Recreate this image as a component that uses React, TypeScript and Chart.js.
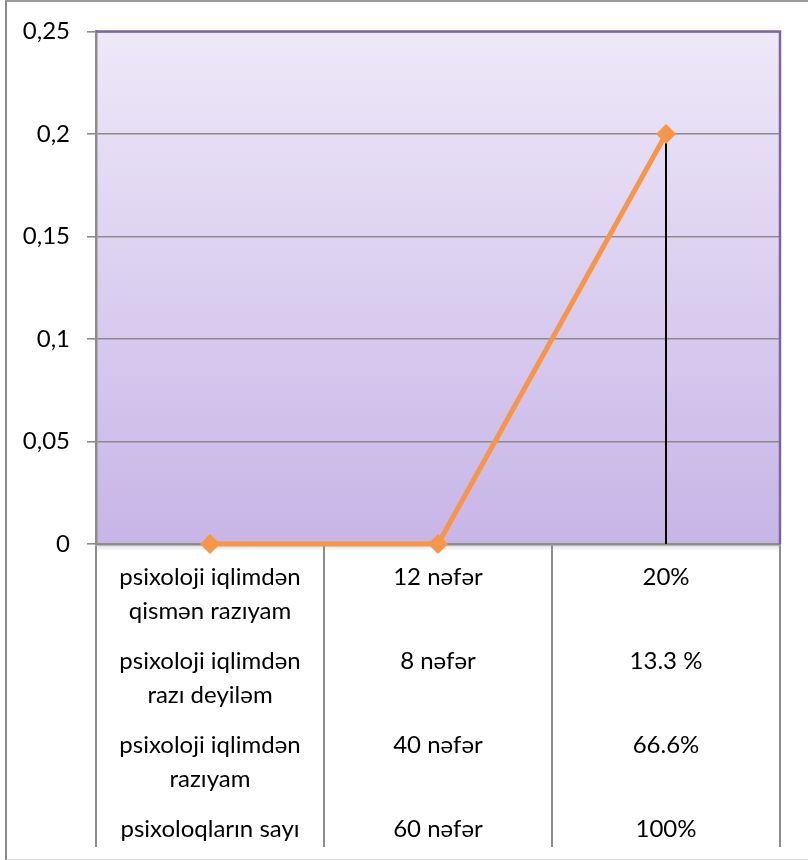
import React, { useEffect, useRef } from "react";
import { Chart, registerables } from "chart.js";

Chart.register(...registerables);

// Table rows shown under the chart (three columns = three categories)
const answerRows: string[][] = [
  ["psixoloji iqlimdən", "qismən razıyam"],
  ["psixoloji iqlimdən", "razı deyiləm"],
  ["psixoloji iqlimdən", "razıyam"],
  ["psixoloqların sayı"],
];
const countRows: string[] = ["12 nəfər", "8 nəfər", "40 nəfər", "60 nəfər"];
const percentRows: string[] = ["20%", "13.3 %", "66.6%", "100%"];

// Series values (one per column)
const seriesValues: number[] = [0, 0, 0.2];

// Y axis
const yMin = 0;
const yMax = 0.25;
const yStep = 0.05;

const FONT = "Lato, 'Open Sans', sans-serif";

function columnLabel(rows: string[][]): string[] {
  const out: string[] = [];
  rows.forEach((r, i) => {
    out.push(r[0] ?? "");
    if (i < rows.length - 1) {
      out.push("");
      out.push(r[1] ?? "");
      out.push("");
      out.push("");
    }
  });
  return out;
}

const categoryLabels: string[][] = [
  columnLabel(answerRows),
  columnLabel(countRows.map((c) => [c])),
  columnLabel(percentRows.map((p) => [p])),
];

const plotDecor = {
  id: "plotDecor",
  beforeDraw(chart: any) {
    const { ctx, chartArea: a } = chart;
    if (!a) return;
    ctx.save();
    const g = ctx.createLinearGradient(0, a.top, 0, a.bottom);
    g.addColorStop(0, "#EEE8F8");
    g.addColorStop(1, "#C7B5E7");
    ctx.fillStyle = g;
    ctx.fillRect(a.left, a.top, a.right - a.left, a.bottom - a.top);
    // soft shadow under the plot
    for (let i = 0; i < 5; i++) {
      ctx.fillStyle = `rgba(120,120,120,${0.22 - i * 0.04})`;
      ctx.fillRect(a.left + 2, a.bottom + 1 + i, a.right - a.left - 2, 1);
    }
    ctx.restore();
  },
  beforeDatasetsDraw(chart: any) {
    const { ctx, chartArea: a } = chart;
    ctx.save();
    // plot border (top / right)
    ctx.strokeStyle = "#8064A2";
    ctx.lineWidth = 2.5;
    ctx.beginPath();
    ctx.moveTo(a.left, a.top);
    ctx.lineTo(a.right, a.top);
    ctx.lineTo(a.right, a.bottom);
    ctx.stroke();
    // drop lines
    const meta = chart.getDatasetMeta(0);
    const yScale = chart.scales.y;
    const base = yScale.getPixelForValue(yMin);
    ctx.strokeStyle = "#000000";
    ctx.lineWidth = 2;
    meta.data.forEach((pt: any) => {
      if (Math.abs(base - pt.y) < 0.5) return;
      ctx.beginPath();
      ctx.moveTo(pt.x, pt.y);
      ctx.lineTo(pt.x, base);
      ctx.stroke();
    });
    ctx.restore();
  },
};

export default function App() {
  const ref = useRef<HTMLCanvasElement | null>(null);

  useEffect(() => {
    if (!ref.current) return;
    const chart = new Chart(ref.current, {
      type: "line",
      data: {
        labels: categoryLabels as any,
        datasets: [
          {
            data: seriesValues,
            borderColor: "#F79646",
            backgroundColor: "#F79646",
            borderWidth: 5,
            pointStyle: "rectRot",
            pointRadius: 10,
            pointHoverRadius: 10,
            pointBorderWidth: 0,
            pointBackgroundColor: "#F79646",
            tension: 0,
            clip: false as any,
          },
        ],
      },
      options: {
        animation: false,
        responsive: false,
        maintainAspectRatio: false,
        layout: { padding: { left: 0, top: 31, right: 28, bottom: 0 } },
        plugins: {
          legend: { display: false },
          tooltip: { enabled: false },
          title: { display: false },
        },
        scales: {
          x: {
            offset: true,
            grid: {
              offset: true,
              drawOnChartArea: false,
              drawTicks: true,
              tickLength: 303,
              color: "#8C8C8C",
              lineWidth: 2,
            },
            border: { display: true, color: "#8C8C8C", width: 2.5 },
            ticks: {
              color: "#000000",
              padding: -278,
              maxRotation: 0,
              minRotation: 0,
              autoSkip: false,
              font: { family: FONT, size: 24, lineHeight: "16.8px" },
            },
            afterFit: (s: any) => {
              s.height = 316;
            },
          },
          y: {
            min: yMin,
            max: yMax,
            grid: {
              color: "#8C8C8C",
              lineWidth: 1.6,
              tickLength: 9,
              drawTicks: true,
            },
            border: { display: true, color: "#8C8C8C", width: 2.5 },
            ticks: {
              stepSize: yStep,
              padding: 17,
              color: "#000000",
              font: { family: FONT, size: 24 },
              callback: (v: any) => String(+Number(v).toFixed(2)).replace(".", ","),
            },
            afterFit: (s: any) => {
              s.width = 96;
            },
          },
        },
      },
      plugins: [plotDecor],
    });
    return () => chart.destroy();
  }, []);

  return (
    <div
      style={{
        position: "fixed",
        left: 0,
        top: 0,
        width: 808,
        height: 860,
        background: "#ffffff",
      }}
    >
      <div
        style={{
          position: "absolute",
          left: 5,
          top: 0,
          width: 801,
          height: 857,
          borderLeft: "2px solid #8A8A8A",
          borderTop: "2px solid #9A9A9A",
          borderRight: "1px solid #E0E0E0",
          borderBottom: "2px solid #DCDCDC",
        }}
      />
      <canvas
        ref={ref}
        width={808}
        height={860}
        style={{ position: "absolute", left: 0, top: 0, width: 808, height: 860 }}
      />
    </div>
  );
}
